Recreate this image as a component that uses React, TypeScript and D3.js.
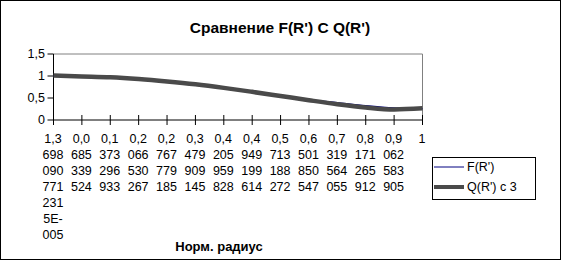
import React from "react";
import * as d3 from "d3";

const categories = [
  "1,36980907712315E-005",
  "0,0685339524",
  "0,1373296933",
  "0,2066530267",
  "0,2767779185",
  "0,3479909145",
  "0,4205959828",
  "0,4949199614",
  "0,5713188272",
  "0,6501850547",
  "0,7319564055",
  "0,8171265912",
  "0,9062583905",
  "1",
];
const seriesF = [1.0, 0.995, 0.975, 0.935, 0.875, 0.81, 0.73, 0.645, 0.55, 0.465, 0.395, 0.325, 0.275, 0.26];
const seriesQ = [1.01, 0.99, 0.97, 0.93, 0.875, 0.81, 0.73, 0.64, 0.545, 0.45, 0.36, 0.285, 0.24, 0.265];
const yTicks = [0, 0.5, 1, 1.5];
const yTickLabels = ["0", "0,5", "1", "1,5"];
const title = "Сравнение F(R') С Q(R')";
const xTitle = "Норм. радиус";
const legendNames = ["F(R')", "Q(R') c 3"];

const W = 561;
const H = 260;
const L = 53.5, R = 422.5, T = 54, B = 120;
const FONT = "'Liberation Sans', Arial, sans-serif";

function chunk(s: string): string[] {
  const out: string[] = [];
  for (let i = 0; i < s.length; i += 3) out.push(s.slice(i, i + 3));
  return out;
}

export default function App() {
  const x = d3.scalePoint<number>().domain(categories.map((_, i) => i)).range([L, R]);
  const y = d3.scaleLinear().domain([0, 1.5]).range([B, T]);
  const line = d3
    .line<number>()
    .x((_, i) => x(i) as number)
    .y((d) => y(d))
    .curve(d3.curveMonotoneX);

  return (
    <svg
      width={W}
      height={H}
      style={{ position: "absolute", left: 0, top: 0, background: "#fff" }}
      fontFamily={FONT}
    >
      <rect x={0.5} y={0.5} width={W - 1} height={H - 1} fill="#fff" stroke="#000" />
      <text x={280} y={33} textAnchor="middle" fontWeight="bold" fontSize={15.5}>
        {title}
      </text>
      {/* plot frame */}
      <line x1={L} x2={R} y1={T} y2={T} stroke="#808080" />
      <line x1={R} x2={R} y1={T} y2={B} stroke="#808080" />
      {/* y axis */}
      <line x1={L} x2={L} y1={T} y2={B} stroke="#000" />
      {yTicks.map((v, i) => (
        <g key={"y" + i}>
          <line x1={L - 6} x2={L} y1={y(v)} y2={y(v)} stroke="#000" />
          <text x={45} y={y(v)} dy="0.35em" textAnchor="end" fontSize={12.5}>
            {yTickLabels[i]}
          </text>
        </g>
      ))}
      {/* x axis */}
      <line x1={L} x2={R} y1={B} y2={B} stroke="#000" />
      {categories.map((c, i) => (
        <g key={"x" + i}>
          <line x1={x(i)} x2={x(i)} y1={B - 5} y2={B + 5} stroke="#000" />
          {chunk(c).map((s, j) => (
            <text
              key={j}
              x={(x(i) as number) - 0.5}
              y={139 + j * 16}
              dy="0.35em"
              textAnchor="middle"
              fontSize={12.5}
            >
              {s}
            </text>
          ))}
        </g>
      ))}
      <text x={219} y={246} dy="0.35em" textAnchor="middle" fontWeight="bold" fontSize={13}>
        {xTitle}
      </text>
      {/* series */}
      <path d={line(seriesF) || ""} fill="none" stroke="#000080" strokeWidth={1.2} />
      <path d={line(seriesQ) || ""} fill="none" stroke="#4a4a4a" strokeWidth={4.5} />
      {/* legend */}
      <rect x={432.5} y={157.5} width={103} height={42} fill="#fff" stroke="#000" />
      <line x1={434} x2={464} y1={167} y2={167} stroke="#000080" strokeWidth={1} />
      <line x1={434} x2={464} y1={187} y2={187} stroke="#4a4a4a" strokeWidth={4} />
      <text x={467} y={167} dy="0.35em" fontSize={12.5}>
        {legendNames[0]}
      </text>
      <text x={467} y={187} dy="0.35em" fontSize={12.5}>
        {legendNames[1]}
      </text>
    </svg>
  );
}
